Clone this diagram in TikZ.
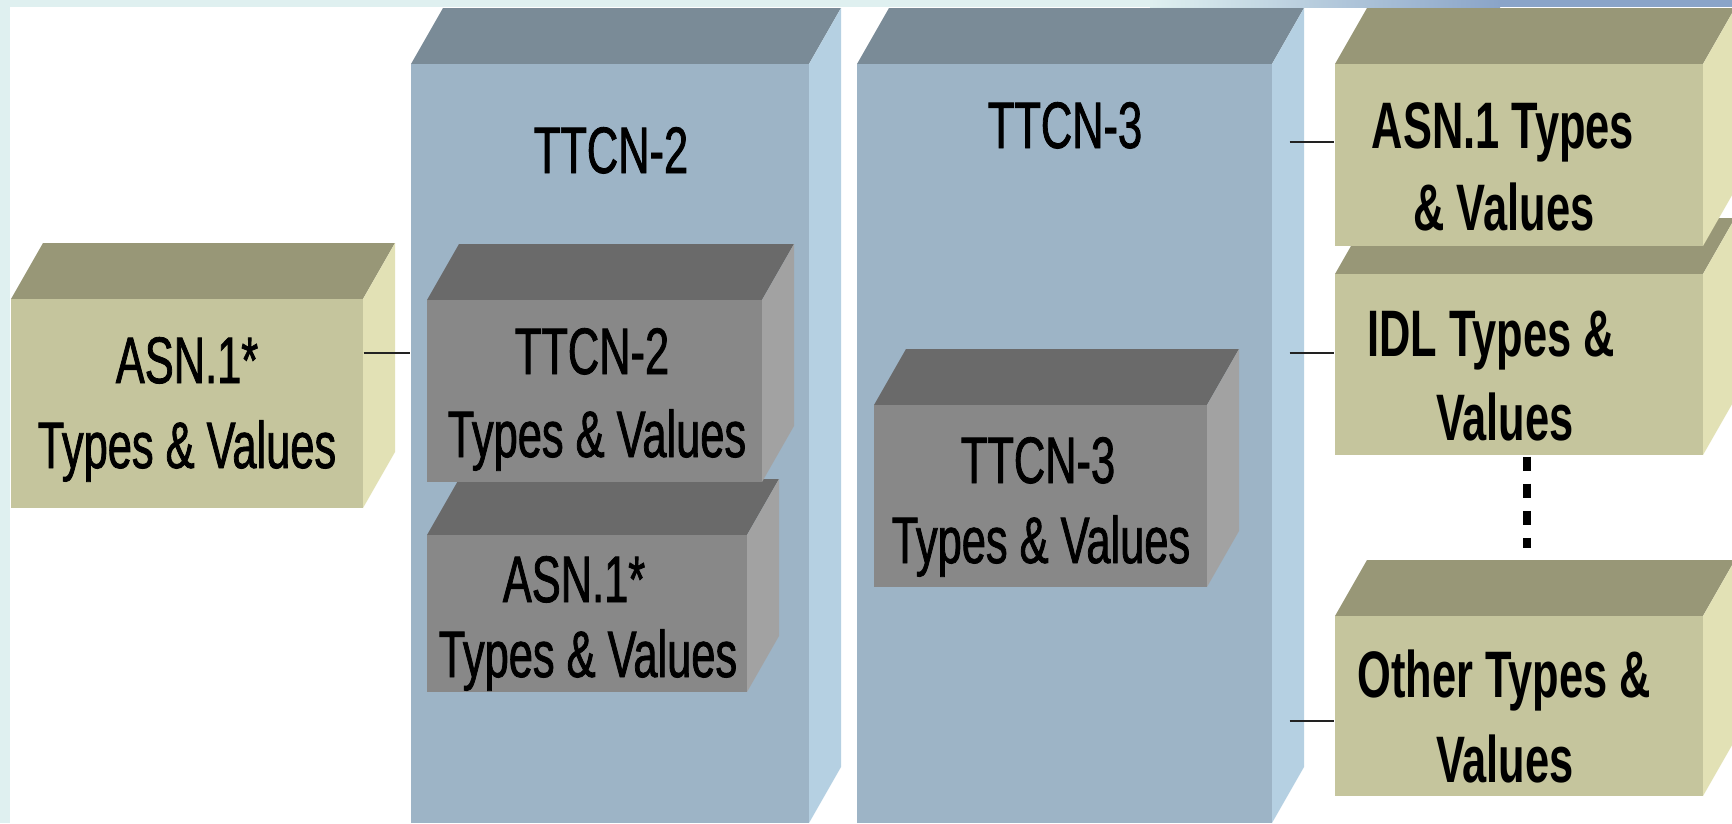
\documentclass[tikz,border=0pt]{standalone}
\usepackage{fontspec}
\setmainfont{Liberation Sans}[FakeStretch=0.66, UprightFeatures={FakeBold=1.2}]
\usetikzlibrary{fit}

\definecolor{stripcyan}{HTML}{DFF0F0}
\definecolor{stripblue}{HTML}{8AA4C8}
\definecolor{bluefront}{HTML}{9DB4C6}
\definecolor{bluetop}{HTML}{7A8B97}
\definecolor{blueside}{HTML}{B5D0E2}
\definecolor{greyfront}{HTML}{888888}
\definecolor{greytop}{HTML}{6A6A6A}
\definecolor{greyside}{HTML}{A2A2A2}
\definecolor{khakifront}{HTML}{C5C59D}
\definecolor{khakitop}{HTML}{989777}
\definecolor{khakiside}{HTML}{E2E1B5}
\definecolor{connector}{HTML}{222222}

% Extruded box: name, x1, y1, x2, y2 (front face), front, top, side colours.
% The depth offset is (32,-56) in picture units.
\newcommand\extrudedbox[8]{%
  \fill[#7] (#2,#3) -- (#2+32,#3-56) -- (#4+32,#3-56) -- (#4,#3) -- cycle;
  \fill[#8] (#4,#3) -- (#4+32,#3-56) -- (#4+32,#5-56) -- (#4,#5) -- cycle;
  \node[fit={(#2,#3) (#4,#5)}, inner sep=0pt, fill=#6] (#1) {};
}

\tikzset{
  lbl/.style={anchor=base, inner sep=0pt, text=black,
    font=\fontsize{18.7pt}{23.6pt}\selectfont},
  blbl/.style={lbl, font=\fontsize{18.7pt}{23.6pt}\selectfont\bfseries},
  conn/.style={draw=connector, line width=0.02cm},
  ellipsis/.style={draw=black, line width=0.08cm,
    dash pattern=on 0.14cm off 0.13cm}
}

\begin{document}
\begin{tikzpicture}[x=0.01cm, y=-0.01cm]
  \useasboundingbox (0,0) rectangle (1732,823);
  \clip (0,0) rectangle (1732,823);
  \fill[white] (0,0) rectangle (1732,823);

  % large language blocks
  \extrudedbox{ttcntwo}{411}{64}{809}{823}{bluefront}{bluetop}{blueside}
  \extrudedbox{ttcnthree}{857}{64}{1272}{823}{bluefront}{bluetop}{blueside}

  % type boxes inside TTCN-2 (lower one first, it sits behind)
  \extrudedbox{asnstarin}{427}{535}{747}{692}{greyfront}{greytop}{greyside}
  \extrudedbox{ttcntwotv}{427}{300}{762}{482}{greyfront}{greytop}{greyside}

  % type box inside TTCN-3
  \extrudedbox{ttcnthreetv}{874}{405}{1207}{587}{greyfront}{greytop}{greyside}

  % external type definitions
  \extrudedbox{asnstar}{11}{299}{363}{508}{khakifront}{khakitop}{khakiside}
  \extrudedbox{other}{1335}{616}{1703}{796}{khakifront}{khakitop}{khakiside}
  \extrudedbox{idl}{1335}{274}{1703}{455}{khakifront}{khakitop}{khakiside}
  \extrudedbox{asnone}{1335}{64}{1703}{246}{khakifront}{khakitop}{khakiside}

  % frame strips
  \fill[stripcyan] (0,0) rectangle (1732,7);
  \shade[left color=stripcyan, right color=stripblue] (1150,0) rectangle (1500,7);
  \fill[stripblue] (1500,0) rectangle (1732,7);
  \fill[stripcyan] (0,0) rectangle (10,823);

  % block titles
  \node[lbl] (ttcntwotitle) at (611,173) {TTCN-2};
  \node[lbl] (ttcnthreetitle) at (1065,148) {TTCN-3};

  % box texts
  \node[lbl] (asnstarA) at (187,383) {ASN.1*};
  \node[lbl] (asnstarB) at (187,468) {Types \& Values};

  \node[lbl] (ttcntwotvA) at (592,374) {TTCN-2};
  \node[lbl] (ttcntwotvB) at (597,457) {Types \& Values};

  \node[lbl] (asnstarinA) at (574,602) {ASN.1*};
  \node[lbl] (asnstarinB) at (588,677) {Types \& Values};

  \node[lbl] (ttcnthreetvA) at (1038,483) {TTCN-3};
  \node[lbl] (ttcnthreetvB) at (1041,563) {Types \& Values};

  \node[blbl] (asnoneA) at (1503,148) {ASN.1 Types};
  \node[blbl] (asnoneB) at (1504,230) {\& Values};

  \node[blbl] (idlA) at (1491,356) {IDL Types \&};
  \node[blbl] (idlB) at (1505,440) {Values};

  \node[blbl] (otherA) at (1504,697) {Other Types \&};
  \node[blbl] (otherB) at (1505,782) {Values};

  % connectors
  \draw[conn] (asnstar.east |- 0,353) -- (ttcntwo.west |- 0,353);
  \draw[conn] ([xshift=0.17cm]ttcnthree.east |- 0,142) -- (asnone.west |- 0,142);
  \draw[conn] ([xshift=0.17cm]ttcnthree.east |- 0,353) -- (idl.west |- 0,353);
  \draw[conn] ([xshift=0.17cm]ttcnthree.east |- 0,721) -- (other.west |- 0,721);

  % continuation dots between IDL and other types
  \coordinate (dotsend) at ([xshift=0.08cm]idl.south |- 0,548);
  \draw[ellipsis] ([xshift=0.08cm,yshift=-0.01cm]idl.south) -- (dotsend);
\end{tikzpicture}
\end{document}
